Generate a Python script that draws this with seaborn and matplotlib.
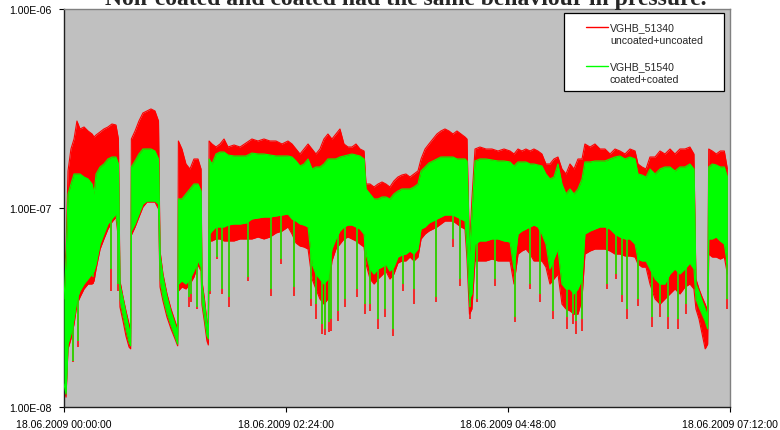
import numpy as np
import matplotlib
matplotlib.use("Agg")
import matplotlib.pyplot as plt
from matplotlib.patches import Rectangle
from matplotlib.lines import Line2D
import seaborn as sns

# ---- data ---------------------------------------------------------------
# time axis: minutes after 18.06.2009 00:00:00
time_min = [
    0.0, 1.3, 2.6, 4.5, 6.5, 8.4, 10.4, 13.0, 15.6, 18.2, 19.5, 20.8, 23.4, 25.9, 28.5, 31.1,
    33.7, 35.3, 36.3, 38.3, 40.2, 42.2, 43.2, 43.7, 46.1, 48.6, 51.2, 53.8, 56.4, 59.0, 61.3, 62.3,
    64.2, 66.8, 69.4, 72.0, 73.7, 74.2, 76.5, 79.1, 81.7, 84.3, 86.9, 88.9, 89.5, 91.1, 92.7, 93.6,
    94.1, 96.0, 98.6, 101.2, 103.8, 106.4, 110.3, 114.2, 118.0, 121.9, 125.8, 129.7, 133.6, 137.5,
    141.4, 145.3, 147.9, 150.5, 153.1, 155.7, 158.3, 160.9, 163.4, 166.0, 168.6, 171.2,
    173.8, 176.4, 179.0, 181.6, 184.2, 186.8, 189.4, 192.0, 194.6, 195.9, 198.5, 201.1, 203.7, 206.3,
    208.8, 211.4, 214.0, 216.6, 219.2, 221.8, 224.4, 227.0, 229.6, 231.6, 234.2, 236.7, 239.3, 241.9,
    244.5, 247.1, 249.7, 252.3, 254.9, 257.5, 260.1,
    261.4, 263.0, 264.6, 266.6, 269.8, 273.7, 277.6, 281.5, 285.4, 289.3, 291.9, 294.5, 297.0, 299.6,
    302.3, 304.8, 307.4, 310.0, 312.6, 315.2, 317.8, 320.4, 323.0, 325.6, 328.2, 330.8, 333.4, 336.0,
    337.9, 341.2, 344.4, 347.7,
    350.9, 354.2, 357.4, 360.6, 363.9, 367.1, 370.4, 372.3, 374.9, 377.5, 380.1, 383.4, 386.6, 389.8,
    393.1, 396.3, 399.5, 402.8, 406.0, 408.6, 409.9, 411.9, 413.9, 415.9, 417.5, 418.2, 420.5, 423.1,
    425.7, 428.3, 430.3,
]

# pressure envelopes in units of 1e-7 mbar
# VGHB_51340 (uncoated+uncoated): upper / lower edge of the signal band
red_hi = [
    0.440, 0.622, 1.535, 1.979, 2.222, 2.736, 2.495, 2.553, 2.438, 2.354, 2.274, 2.327, 2.410, 2.495, 2.553, 2.643,
    2.613, 2.222, 0.430, 0.357, 0.304, 0.261, 0.247, 2.222, 2.438, 2.736, 3.002, 3.073, 3.145, 3.073, 2.736, 0.608,
    0.466, 0.370, 0.311, 0.270, 0.247, 2.171, 1.979, 1.664, 1.570, 1.763, 1.763, 1.570, 0.430, 0.349, 0.270, 0.247,
    2.171, 2.097, 2.025, 2.097, 2.222, 2.025, 2.073, 2.025, 2.121, 2.222, 2.171, 2.222, 2.171, 2.171,
    2.097, 2.171, 2.097, 1.979, 1.868, 1.979, 2.097, 1.979, 1.868, 1.979, 2.222, 2.354,
    2.222, 2.354, 2.495, 2.097, 2.025, 2.025, 2.097, 1.979, 1.934, 1.320, 1.320, 1.275, 1.320, 1.351,
    1.320, 1.275, 1.367, 1.431, 1.465, 1.482, 1.431, 1.482, 1.535, 1.763, 1.979, 2.097, 2.222, 2.354,
    2.438, 2.495, 2.438, 2.354, 2.438, 2.354, 2.274,
    2.222, 0.622, 1.110, 1.979, 2.025, 1.979, 1.979, 1.934, 1.979, 1.934, 1.868, 1.979, 1.934, 1.979,
    1.934, 1.979, 1.934, 1.868, 1.664, 1.664, 1.763, 1.804, 1.570, 1.482, 1.664, 1.570, 1.763, 1.763,
    2.097, 2.025, 2.097, 1.979,
    1.979, 1.868, 1.979, 1.934, 1.868, 1.979, 1.934, 1.664, 1.607, 1.570, 1.804, 1.804, 1.934, 1.868,
    1.979, 1.868, 1.979, 1.979, 2.025, 1.868, 0.440, 0.392, 0.357, 0.329, 0.304, 1.979, 1.934, 1.868,
    1.934, 1.934, 1.570,
]
red_lo = [
    0.126, 0.112, 0.196, 0.220, 0.261, 0.329, 0.357, 0.392, 0.415, 0.415, 0.430, 0.494, 0.622, 0.699, 0.784, 0.850,
    0.901, 0.699, 0.318, 0.270, 0.227, 0.200, 0.196, 0.732, 0.803, 0.901, 1.012, 1.072, 1.072, 1.072, 0.989, 0.401,
    0.341, 0.283, 0.247, 0.220, 0.203, 0.383, 0.401, 0.392, 0.415, 0.450, 0.517, 0.482, 0.326, 0.267, 0.215, 0.205,
    0.683, 0.683, 0.699, 0.699, 0.683, 0.683, 0.683, 0.699, 0.699, 0.699, 0.715, 0.699, 0.715, 0.749,
    0.766, 0.803, 0.740, 0.667, 0.644, 0.637, 0.622, 0.440, 0.392, 0.349, 0.329, 0.349,
    0.542, 0.622, 0.659, 0.699, 0.715, 0.699, 0.683, 0.659, 0.637, 0.523, 0.440, 0.415, 0.440, 0.460,
    0.482, 0.440, 0.466, 0.529, 0.542, 0.542, 0.567, 0.542, 0.567, 0.699, 0.740, 0.766, 0.784, 0.803,
    0.831, 0.860, 0.860, 0.860, 0.831, 0.803, 0.784,
    0.554, 0.293, 0.311, 0.542, 0.542, 0.542, 0.554, 0.542, 0.542, 0.542, 0.415, 0.587, 0.608, 0.622,
    0.587, 0.542, 0.542, 0.542, 0.505, 0.415, 0.440, 0.466, 0.329, 0.311, 0.304, 0.293, 0.293, 0.349,
    0.587, 0.608, 0.622, 0.622,
    0.622, 0.608, 0.587, 0.587, 0.574, 0.574, 0.567, 0.523, 0.505, 0.505, 0.415, 0.349, 0.329, 0.349,
    0.370, 0.392, 0.370, 0.401, 0.415, 0.392, 0.311, 0.277, 0.233, 0.196, 0.207, 0.587, 0.567, 0.567,
    0.554, 0.567, 0.466,
]

# VGHB_51540 (coated+coated): upper / lower edge of the signal band
green_hi = [
    0.349, 0.542, 1.176, 1.320, 1.482, 1.482, 1.482, 1.431, 1.400, 1.320, 1.176, 1.482, 1.607, 1.664, 1.763, 1.804,
    1.804, 1.664, 0.410, 0.349, 0.293, 0.247, 0.233, 1.607, 1.723, 1.868, 1.979, 1.979, 1.979, 1.934, 1.763, 0.580,
    0.450, 0.357, 0.300, 0.261, 0.238, 1.110, 1.110, 1.176, 1.246, 1.320, 1.320, 1.217, 0.415, 0.329, 0.261, 0.241,
    1.763, 1.664, 1.868, 1.911, 1.911, 1.846, 1.825, 1.825, 1.825, 1.889, 1.868, 1.868, 1.846, 1.825,
    1.825, 1.825, 1.804, 1.723, 1.626, 1.664, 1.763, 1.570, 1.607, 1.607, 1.664, 1.763,
    1.763, 1.763, 1.804, 1.825, 1.846, 1.868, 1.846, 1.825, 1.763, 1.246, 1.176, 1.110, 1.110, 1.136,
    1.136, 1.110, 1.176, 1.217, 1.246, 1.246, 1.246, 1.275, 1.320, 1.535, 1.607, 1.683, 1.723, 1.763,
    1.804, 1.804, 1.804, 1.804, 1.763, 1.763, 1.763,
    1.723, 0.587, 0.933, 1.723, 1.763, 1.763, 1.743, 1.723, 1.723, 1.703, 1.626, 1.703, 1.703, 1.703,
    1.664, 1.664, 1.645, 1.626, 1.482, 1.400, 1.431, 1.664, 1.320, 1.176, 1.246, 1.176, 1.246, 1.400,
    1.703, 1.703, 1.723, 1.723,
    1.723, 1.763, 1.804, 1.825, 1.763, 1.804, 1.763, 1.482, 1.465, 1.431, 1.570, 1.482, 1.570, 1.607,
    1.607, 1.535, 1.607, 1.607, 1.664, 1.570, 0.415, 0.379, 0.341, 0.311, 0.283, 1.607, 1.664, 1.645,
    1.607, 1.607, 1.431,
]
green_lo = [
    0.1305, 0.116, 0.207, 0.233, 0.277, 0.349, 0.383, 0.415, 0.440, 0.466, 0.482, 0.523, 0.659, 0.740, 0.831, 0.881,
    0.933, 0.740, 0.349, 0.290, 0.247, 0.212, 0.203, 0.766, 0.831, 0.933, 1.047, 1.084, 1.084, 1.084, 1.047, 0.440,
    0.357, 0.297, 0.258, 0.227, 0.207, 0.415, 0.430, 0.415, 0.440, 0.482, 0.542, 0.505, 0.341, 0.283, 0.230, 0.220,
    0.732, 0.766, 0.803, 0.803, 0.803, 0.821, 0.831, 0.831, 0.840, 0.881, 0.891, 0.901, 0.901, 0.912,
    0.922, 0.933, 0.881, 0.860, 0.831, 0.821, 0.803, 0.523, 0.466, 0.440, 0.415, 0.440,
    0.622, 0.699, 0.766, 0.803, 0.821, 0.821, 0.803, 0.784, 0.740, 0.587, 0.494, 0.466, 0.494, 0.505,
    0.523, 0.482, 0.505, 0.567, 0.580, 0.587, 0.608, 0.587, 0.622, 0.784, 0.803, 0.840, 0.860, 0.881,
    0.901, 0.922, 0.922, 0.922, 0.901, 0.881, 0.860,
    0.622, 0.349, 0.370, 0.659, 0.683, 0.683, 0.699, 0.699, 0.683, 0.675, 0.494, 0.740, 0.766, 0.784,
    0.803, 0.821, 0.803, 0.740, 0.659, 0.494, 0.554, 0.622, 0.415, 0.392, 0.392, 0.370, 0.392, 0.440,
    0.740, 0.766, 0.784, 0.803,
    0.803, 0.784, 0.740, 0.715, 0.699, 0.699, 0.659, 0.554, 0.542, 0.542, 0.494, 0.440, 0.415, 0.415,
    0.466, 0.494, 0.466, 0.494, 0.529, 0.494, 0.349, 0.318, 0.293, 0.270, 0.247, 0.699, 0.699, 0.715,
    0.683, 0.659, 0.523,
]

# short pressure dips: time (min) and lowest reading of each gauge (1e-7 mbar)
dip_time = [
    6.0, 9.4, 18.5, 30.3, 35.0, 81.1, 82.7, 86.1, 94.7, 99.2, 102.3, 107.2, 119.1, 134.3, 140.7, 149.4,
    160.2, 163.4, 167.3, 169.0, 171.9, 173.2, 177.7, 182.3, 190.0, 195.2, 198.5, 203.7, 208.2, 213.4,
    219.9, 227.0, 241.3, 252.3, 256.8, 263.3, 267.7, 279.5, 292.5, 302.3, 308.7, 317.2, 326.2, 330.1,
    332.1, 336.0, 352.2, 358.0, 361.9, 365.2, 372.6, 381.4, 386.6, 391.8, 398.3, 403.4, 430.2,
]
dip_red = [
    0.168, 0.200, 0.415, 0.383, 0.383, 0.318, 0.337, 0.311, 0.370, 0.554, 0.370, 0.318, 0.430, 0.361, 0.523, 0.361,
    0.322, 0.277, 0.233, 0.230, 0.238, 0.241, 0.270, 0.318, 0.357, 0.293, 0.304, 0.247, 0.283, 0.227,
    0.383, 0.329, 0.337, 0.637, 0.406, 0.277, 0.337, 0.406, 0.267, 0.392, 0.337, 0.277, 0.247, 0.261,
    0.233, 0.241, 0.392, 0.440, 0.337, 0.277, 0.322, 0.252, 0.283, 0.247, 0.247, 0.293, 0.311,
]
dip_green = [
    0.170, 0.215, 0.450, 0.494, 0.415, 0.357, 0.370, 0.318, 0.383, 0.567, 0.392, 0.357, 0.450, 0.392, 0.554, 0.401,
    0.349, 0.329, 0.261, 0.247, 0.267, 0.277, 0.304, 0.349, 0.392, 0.329, 0.329, 0.277, 0.311, 0.247,
    0.415, 0.392, 0.357, 0.699, 0.440, 0.318, 0.349, 0.440, 0.283, 0.415, 0.370, 0.304, 0.283, 0.293,
    0.270, 0.277, 0.415, 0.466, 0.365, 0.311, 0.349, 0.283, 0.329, 0.283, 0.277, 0.329, 0.349,
]

series_names = ["VGHB_51340", "VGHB_51540"]
series_notes = ["uncoated+uncoated", "coated+coated"]
tick_minutes = [0, 144, 288, 432]
tick_labels = ["18.06.2009 00:00:00", "18.06.2009 02:24:00",
               "18.06.2009 04:48:00", "18.06.2009 07:12:00"]
decades = [1e-8, 1e-7, 1e-6]
decade_labels = ["1.00E-08", "1.00E-07", "1.00E-06"]
title = "Non-coated and coated had the same behaviour in pressure."

# ---- styling ------------------------------------------------------------
sns.set_style("ticks")
plt.rcParams["font.family"] = ["Liberation Sans", "DejaVu Sans"]

RED = "#FF0000"
GREEN = "#00FF00"
UNIT = 1e-7

t = np.array(time_min)
r_hi = np.array(red_hi) * UNIT
r_lo = np.array(red_lo) * UNIT
g_hi = np.array(green_hi) * UNIT
g_lo = np.array(green_lo) * UNIT
d_t = np.array(dip_time)
d_r = np.array(dip_red) * UNIT
d_g = np.array(dip_green) * UNIT

W, H = 780, 431
fig = plt.figure(figsize=(W / 100, H / 100), dpi=100, facecolor="white")
ax = fig.add_axes([64 / W, 23 / H, 666 / W, 398 / H])
ax.set_facecolor("#C0C0C0")
ax.set_yscale("log")

# uncoated gauge underneath, coated gauge on top
ax.fill_between(t, r_lo, r_hi, color=RED, lw=0, zorder=2)
for edge in (r_hi, r_lo):
    sns.lineplot(x=t, y=edge, color=RED, lw=0.8, ax=ax, zorder=2)
dip_top = np.interp(d_t, t, g_lo) * 1.05
ax.vlines(d_t, d_r, dip_top, color=RED, lw=1.1, zorder=2)

ax.fill_between(t, g_lo, g_hi, color=GREEN, lw=0, zorder=3)
for edge in (g_hi, g_lo):
    sns.lineplot(x=t, y=edge, color=GREEN, lw=0.8, ax=ax, zorder=3)
ax.vlines(d_t, d_g, dip_top, color=GREEN, lw=1.1, zorder=3)

ax.set_xlim(0, 432)
ax.set_ylim(1e-8, 1e-6)
ax.set_xticks(tick_minutes)
ax.set_xticklabels(tick_labels)
ax.set_yticks(decades)
ax.set_yticklabels(decade_labels)
ax.yaxis.set_minor_locator(matplotlib.ticker.NullLocator())
ax.set_xlabel("")
ax.set_ylabel("")
ax.tick_params(axis="both", direction="out", length=3.6, width=0.8, color="black",
               labelsize=7.6, labelcolor="black", pad=5)

for side in ("left", "bottom"):
    ax.spines[side].set_color("#202020")
    ax.spines[side].set_linewidth(1.0)
for side in ("top", "right"):
    ax.spines[side].set_visible(True)
    ax.spines[side].set_color("#808080")
    ax.spines[side].set_linewidth(1.0)

# legend box
def fx(px):
    return px / W

def fy(py):
    return 1 - py / H

fig.patches.append(Rectangle((fx(564), fy(92)), fx(724) - fx(564), fy(14) - fy(92),
                             transform=fig.transFigure, facecolor="white",
                             edgecolor="black", lw=0.9, zorder=5))
for colour, name, note, row in zip((RED, GREEN), series_names, series_notes, (28, 67)):
    fig.lines.append(Line2D([fx(586), fx(608)], [fy(row), fy(row)], transform=fig.transFigure,
                            color=colour, lw=1.0, zorder=6))
    fig.text(fx(610), fy(row), name, fontsize=7.6, va="center", ha="left", zorder=6)
    fig.text(fx(610), fy(row + 13), note, fontsize=7.6, va="center", ha="left", zorder=6)

fig.text(0.52, fy(5), title, fontsize=17, fontweight="bold",
         family=["Liberation Serif", "DejaVu Serif"], ha="center", va="baseline")

fig.savefig("out.png", dpi=100, facecolor="white")
